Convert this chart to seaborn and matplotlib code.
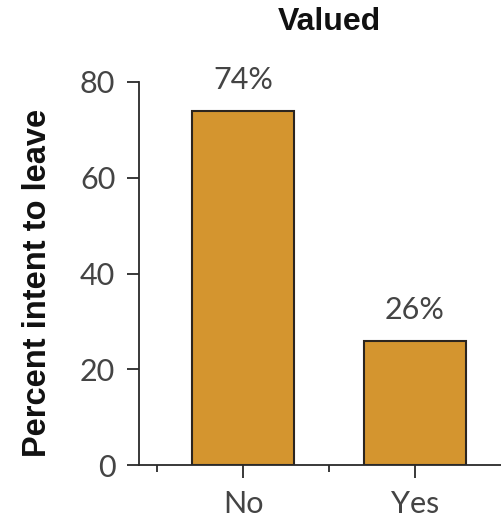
import matplotlib
matplotlib.use("Agg")
import matplotlib.pyplot as plt
from matplotlib.ticker import FixedLocator
import seaborn as sns
import pandas as pd

# Survey result: share intending to leave, split by whether they feel valued
categories = ["No", "Yes"]
percent_leave = [74, 26]
y_ticks = [0, 20, 40, 60, 80]
title = "Valued"
y_label = "Percent intent to leave"

df = pd.DataFrame({"valued": categories, "percent": percent_leave})

sns.set_theme(style="white")
plt.rcParams["font.family"] = ["Lato", "DejaVu Sans"]

bar_color = "#D4952F"
edge_color = "#2b2520"
text_color = "#444444"
heading_font = ["Liberation Sans", "DejaVu Sans"]

fig = plt.figure(figsize=(5.01, 5.28), dpi=100)
ax = fig.add_axes([0.2774, 0.1193, 0.7226, 0.7254])

sns.barplot(data=df, x="valued", y="percent", color=bar_color, width=0.59,
            edgecolor=edge_color, linewidth=1.5, saturation=1, ax=ax)

ax.set_ylim(0, 80)
ax.set_xlim(-0.605, 1.5)
ax.set_yticks(y_ticks)
ax.set_yticklabels([str(v) for v in y_ticks])
ax.xaxis.set_minor_locator(FixedLocator([-0.5, 0.5]))

for spine in ["top", "right"]:
    ax.spines[spine].set_visible(False)
for spine in ["left", "bottom"]:
    ax.spines[spine].set_color("#2a2a2a")
    ax.spines[spine].set_linewidth(1.3)

ax.tick_params(axis="y", which="major", direction="out", length=9, width=1.3,
               color="#2a2a2a", pad=8, labelsize=22, labelcolor=text_color, left=True)
ax.tick_params(axis="x", which="major", direction="out", length=9, width=1.3,
               color="#2a2a2a", pad=9, labelsize=22, labelcolor=text_color, bottom=True)
ax.tick_params(axis="x", which="minor", direction="out", length=5, width=1.3,
               color="#2a2a2a", bottom=True)

ax.set_xlabel("")
ax.set_ylabel(y_label, fontsize=23.5, fontweight="bold", color="#111111",
              family=heading_font)
ax.yaxis.set_label_coords(-0.238, 0.475)

# Value labels above each bar
for i, v in enumerate(percent_leave):
    ax.text(i, v + 3.5, f"{v}%", ha="center", va="bottom", fontsize=22,
            color=text_color, clip_on=False)

fig.text(0.657, 0.958, title, ha="center", va="center", fontsize=23,
         fontweight="bold", color="#111111", family=heading_font)

fig.savefig("out.png", dpi=100, facecolor="white")
